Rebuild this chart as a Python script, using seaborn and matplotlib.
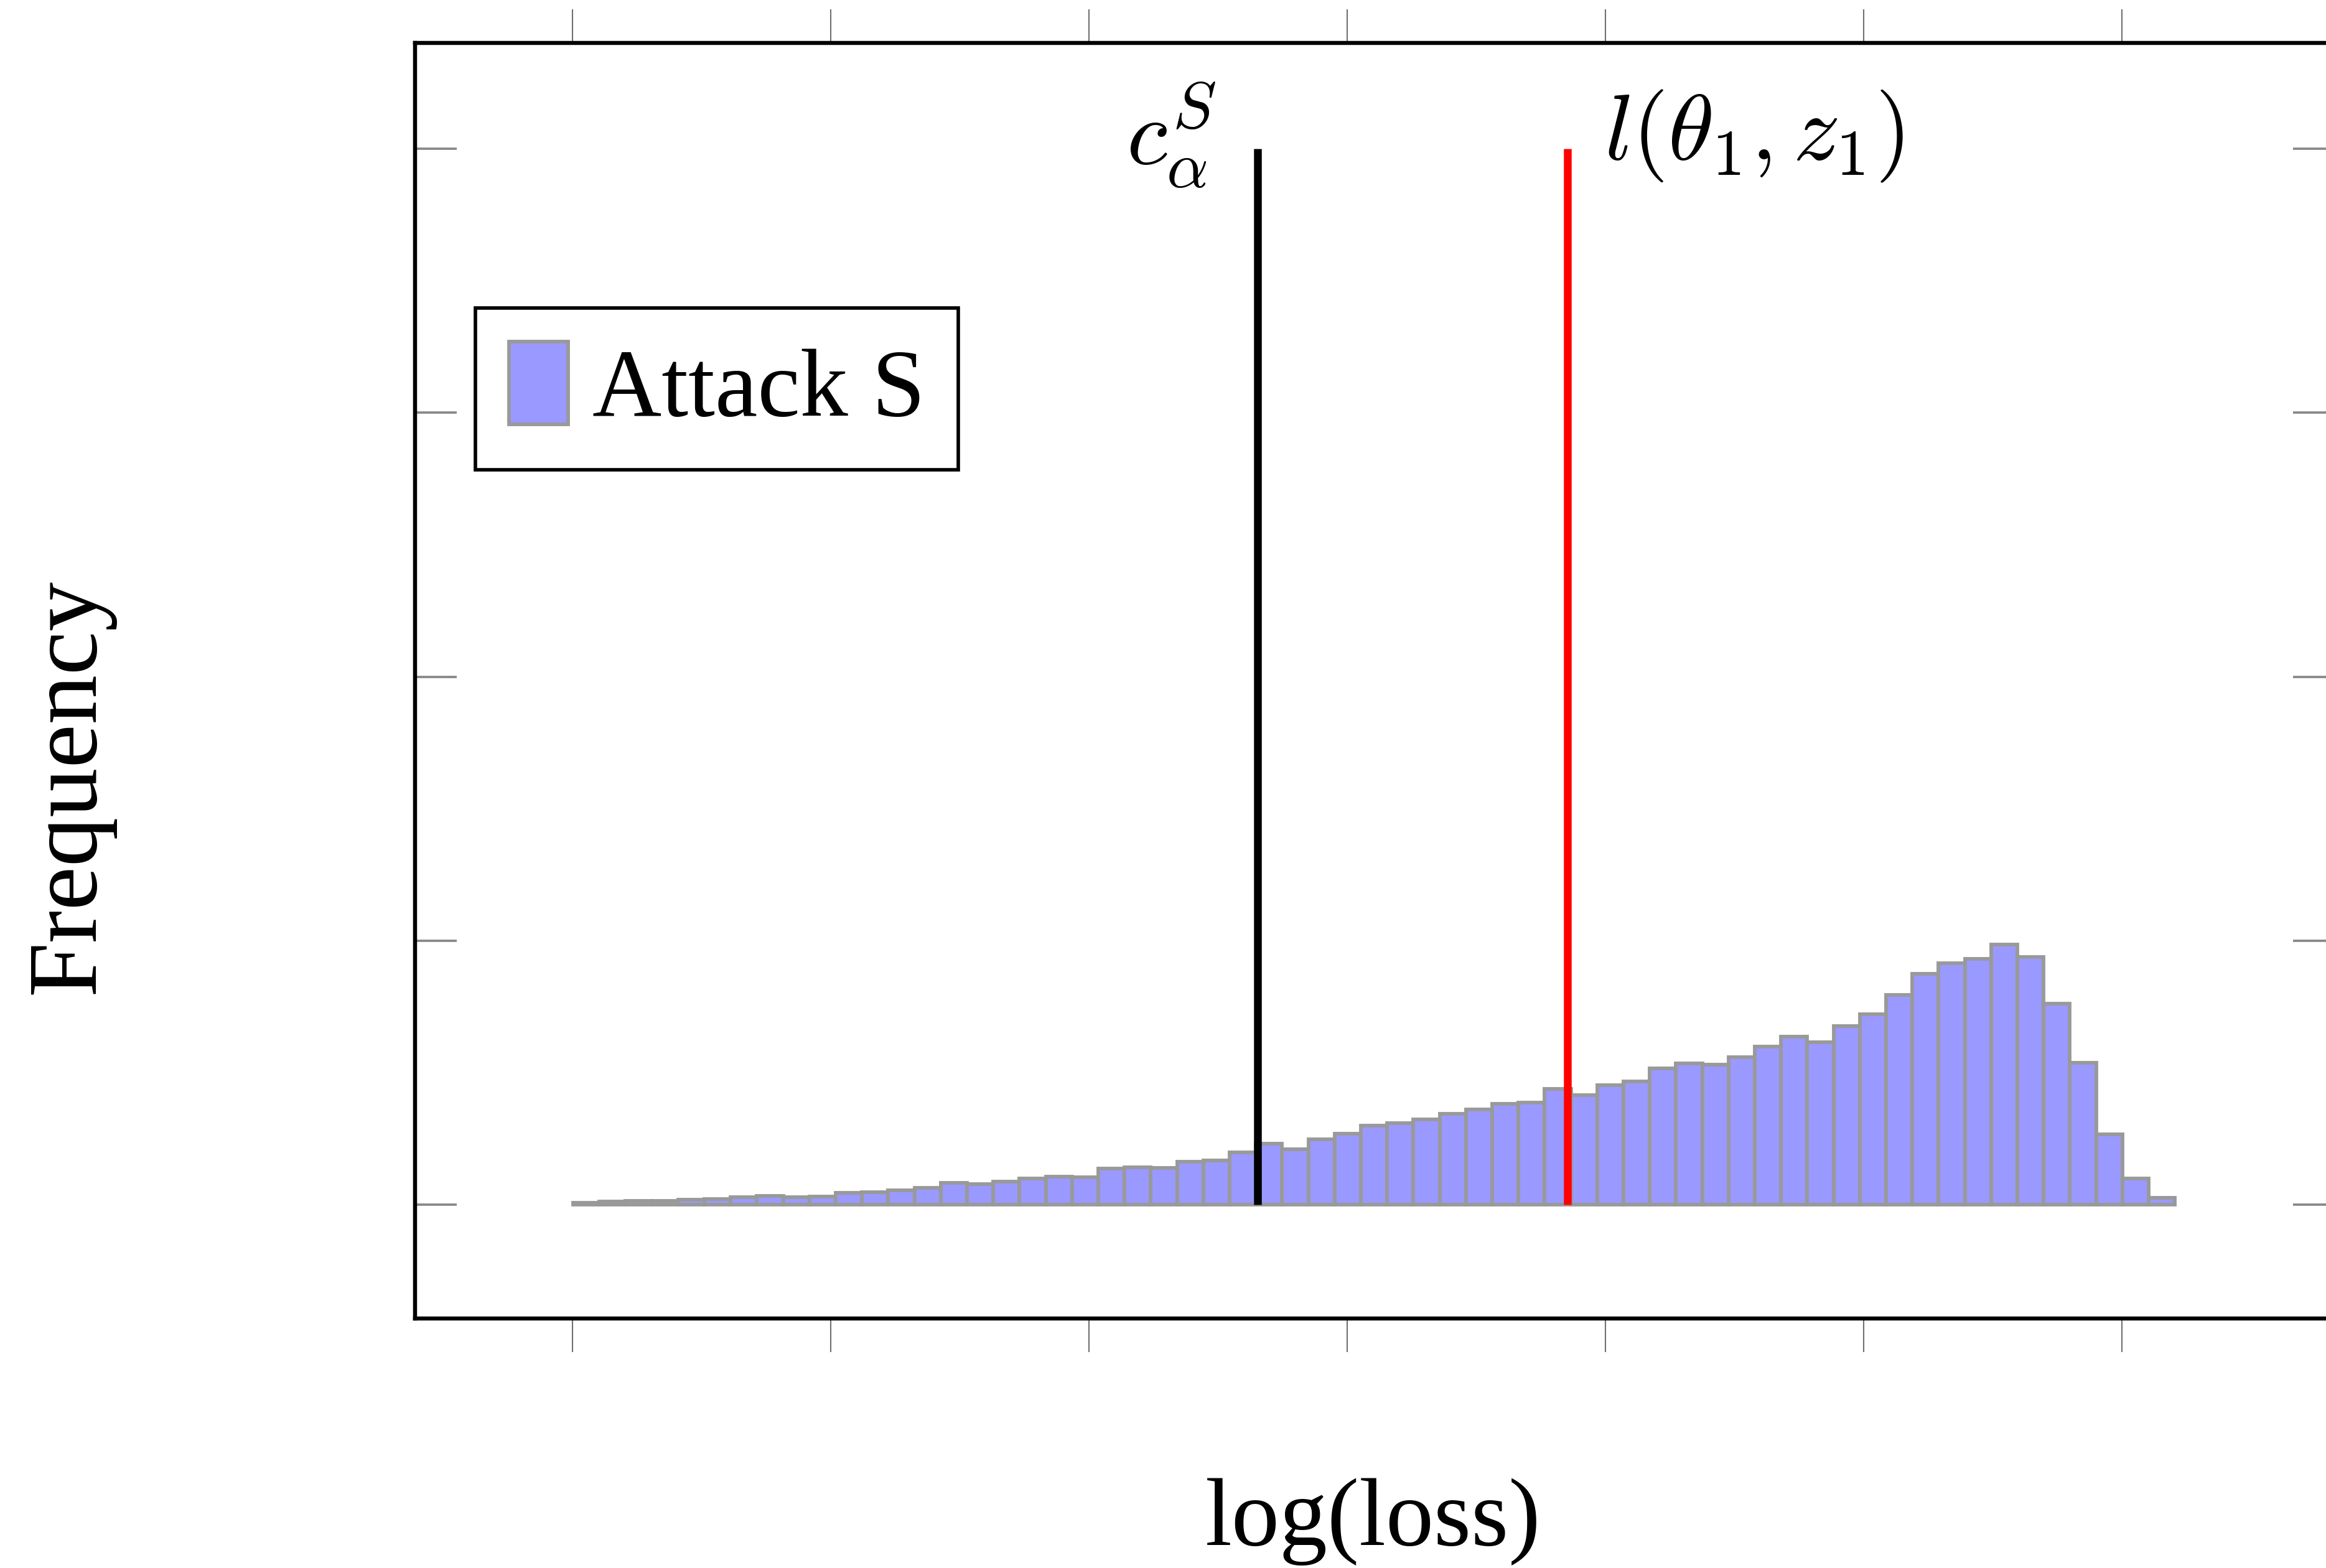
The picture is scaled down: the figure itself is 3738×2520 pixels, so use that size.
import numpy as np
import pandas as pd
import seaborn as sns
import matplotlib.pyplot as plt
from matplotlib.patches import Patch

# histogram of log(loss) for the attack (counts per bin)
bin_lo = 0.002
bin_hi = 6.206
counts = [
    8, 12, 16, 16, 19, 21, 28, 33, 30, 31,
    45, 47, 56, 64, 83, 78, 87, 99, 106, 105,
    137, 143, 139, 163, 167, 198, 231, 211, 247, 269,
    300, 309, 323, 344, 361, 383, 388, 440, 415, 454,
    467, 518, 535, 531, 560, 599, 638, 615, 677, 721,
    795, 875, 915, 931, 985, 938, 762, 538, 266, 99,
    27,
]
c_alpha = 2.652       # threshold c_alpha^S
loss_target = 3.854   # l(theta_1, z_1)
line_top = 4000

x_ticks = [0, 1, 2, 3, 4, 5, 6]
y_ticks = [0, 1000, 2000, 3000, 4000]

sns.set_style("white")
plt.rcParams["font.family"] = ["Liberation Serif", "DejaVu Serif"]
plt.rcParams["mathtext.fontset"] = "cm"
plt.rcParams["text.color"] = "black"

W, H = 3738, 2520
fig = plt.figure(figsize=(W / 300, H / 300), dpi=300)
ax = fig.add_axes([667.3 / W, 1 - 2119 / H, (3752 - 667.3) / W, (2119 - 69) / H])

edges = np.linspace(bin_lo, bin_hi, len(counts) + 1)
df = pd.DataFrame({"loss": (edges[:-1] + edges[1:]) / 2, "count": counts})
sns.histplot(data=df, x="loss", weights="count", bins=len(counts),
             binrange=(bin_lo, bin_hi), ax=ax,
             color="#9999ff", edgecolor="#999999", linewidth=1.4, alpha=1)

ax.vlines(c_alpha, 0, line_top, color="black", linewidth=3.0, zorder=5)
ax.vlines(loss_target, 0, line_top, color="red", linewidth=3.0, zorder=5)

ax.annotate(r"$c_{\alpha}^{S}$", xy=(c_alpha, line_top), xytext=(-16, 5),
            textcoords="offset points", ha="right", va="center", fontsize=36, color="black")
ax.annotate(r"$l(\theta_1, z_1)$", xy=(loss_target, line_top), xytext=(14, 5),
            textcoords="offset points", ha="left", va="center", fontsize=36, color="black")

ax.set_xlim(-0.6096, 6.825)
ax.set_ylim(-430.6, 4400.9)
ax.set_xticks(x_ticks)
ax.set_yticks(y_ticks)
ax.tick_params(axis="x", direction="out", length=13, width=0.5, color="#707070",
               top=True, bottom=True, labelbottom=False, labeltop=False)
ax.tick_params(axis="y", direction="in", length=16, width=0.9, color="#888888",
               left=True, right=True, labelleft=False, labelright=False)
for s in ax.spines.values():
    s.set_visible(True)
    s.set_color("black")
    s.set_linewidth(1.55)
ax.set_xlabel("")
ax.set_ylabel("")

handle = Patch(facecolor="#9999ff", edgecolor="#999999", linewidth=1.4)
leg = ax.legend([handle], ["Attack S"], loc="upper left", bbox_to_anchor=(0.0312, 0.7924),
                borderaxespad=0, fontsize=37, frameon=True, fancybox=False, framealpha=1,
                handlelength=0.62, handleheight=0.95, handletextpad=0.25,
                borderpad=0.35, labelcolor="black")
leg.get_frame().set_edgecolor("black")
leg.get_frame().set_linewidth(1.35)

fig.text(112 / W, 1 - 1263.5 / H, "Frequency", rotation=90, ha="center", va="center",
         fontsize=38, color="black")
fig.text(2207 / W, 1 - 2482.7 / H, "log(loss)", ha="center", va="baseline",
         fontsize=37, color="black")

plt.savefig("out.png", dpi=300)
plt.close()
